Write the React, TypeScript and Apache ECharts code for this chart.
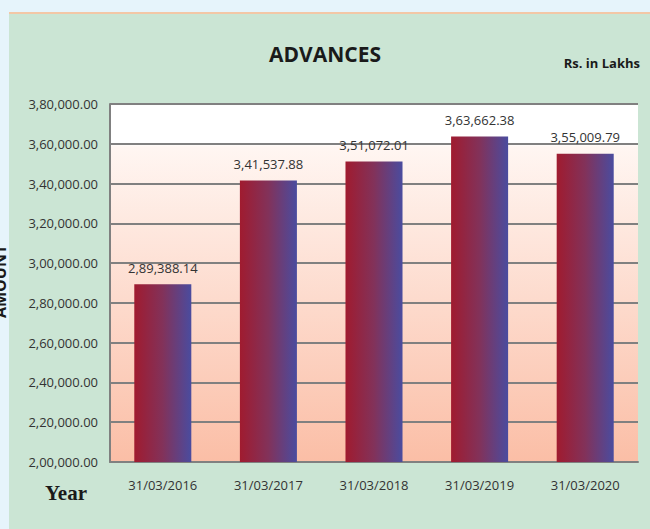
import React, { useEffect, useRef } from "react";
import * as echarts from "echarts";

const categories = ["31/03/2016", "31/03/2017", "31/03/2018", "31/03/2019", "31/03/2020"];
const advances = [289388.14, 341537.88, 351072.01, 363662.38, 355009.79];
const yMin = 200000;
const yMax = 380000;
const yStep = 20000;

function indianFormat(v: number): string {
  const neg = v < 0;
  const [intPart, dec] = Math.abs(v).toFixed(2).split(".");
  let s = intPart;
  if (s.length > 3) {
    const last3 = s.slice(-3);
    let rest = s.slice(0, -3);
    const parts: string[] = [];
    while (rest.length > 2) {
      parts.unshift(rest.slice(-2));
      rest = rest.slice(0, -2);
    }
    if (rest.length) parts.unshift(rest);
    s = parts.join(",") + "," + last3;
  }
  return (neg ? "-" : "") + s + "." + dec;
}

const FONT = "'Open Sans', 'Noto Sans', sans-serif";

export default function App() {
  const ref = useRef<HTMLDivElement>(null);
  useEffect(() => {
    if (!ref.current) return;
    const chart = echarts.init(ref.current, undefined, { renderer: "svg" });
    chart.setOption({
      animation: false,
      backgroundColor: "transparent",
      textStyle: { fontFamily: FONT },
      grid: {
        left: 110,
        right: 12,
        top: 104,
        bottom: 67,
        show: true,
        borderWidth: 0,
        backgroundColor: new echarts.graphic.LinearGradient(0, 0, 0, 1, [
          { offset: 0, color: "#ffffff" },
          { offset: 0.11, color: "#ffffff" },
          { offset: 0.12, color: "#fff6f2" },
          { offset: 1, color: "#fbbea6" },
        ]),
      },
      graphic: [
        {
          type: "text",
          left: "center",
          top: 43,
          style: { text: "ADVANCES", font: `bold 21px ${FONT}`, fill: "#1a1a1a" },
        },
        {
          type: "text",
          right: 10,
          top: 56,
          style: { text: "Rs. in Lakhs", font: `bold 13px ${FONT}`, fill: "#1a1a1a" },
        },
        {
          type: "text",
          x: 45,
          y: 482,
          style: { text: "Year", font: "bold 21px 'Liberation Serif', 'DejaVu Serif', serif", fill: "#1a1a1a" },
        },
        {
          type: "text",
          x: -8,
          y: 318,
          rotation: Math.PI / 2,
          style: { text: "AMOUNT", font: `bold 16px ${FONT}`, fill: "#1a1a1a" },
        },
      ],
      xAxis: {
        type: "category",
        data: categories,
        axisLine: { show: true, lineStyle: { color: "#808080", width: 2 } },
        axisTick: { show: false },
        axisLabel: { color: "#333", fontSize: 13, margin: 16, fontFamily: FONT },
      },
      yAxis: {
        type: "value",
        min: yMin,
        max: yMax,
        interval: yStep,
        axisLine: { show: true, lineStyle: { color: "#808080", width: 2 } },
        axisTick: { show: false },
        splitLine: { show: true, lineStyle: { color: "#808080", width: 2 } },
        axisLabel: {
          color: "#333",
          fontSize: 13,
          margin: 12,
          fontFamily: FONT,
          formatter: (v: number) => indianFormat(v),
        },
      },
      series: [
        {
          type: "bar",
          data: advances,
          barWidth: "54%",
          itemStyle: {
            color: new echarts.graphic.LinearGradient(0, 0, 1, 0, [
              { offset: 0, color: "#a01b2f" },
              { offset: 0.5, color: "#82325a" },
              { offset: 1, color: "#4a4c9f" },
            ]),
          },
          label: {
            show: true,
            position: "top",
            distance: 10,
            color: "#333",
            fontSize: 13,
            fontFamily: FONT,
            formatter: (p: any) => indianFormat(p.value),
          },
        },
      ],
    });
    return () => chart.dispose();
  }, []);

  return (
    <div style={{ position: "fixed", left: 0, top: 0, width: 650, height: 529, background: "#e6f4fb", overflow: "hidden" }}>
      <div
        style={{
          position: "absolute",
          left: 9,
          top: 12,
          width: 641,
          height: 517,
          background: "#cbe5d4",
          borderTop: "2px solid #f3c7a6",
          boxSizing: "border-box",
        }}
      />
      <div ref={ref} style={{ position: "absolute", left: 0, top: 0, width: 650, height: 529 }} />
    </div>
  );
}
